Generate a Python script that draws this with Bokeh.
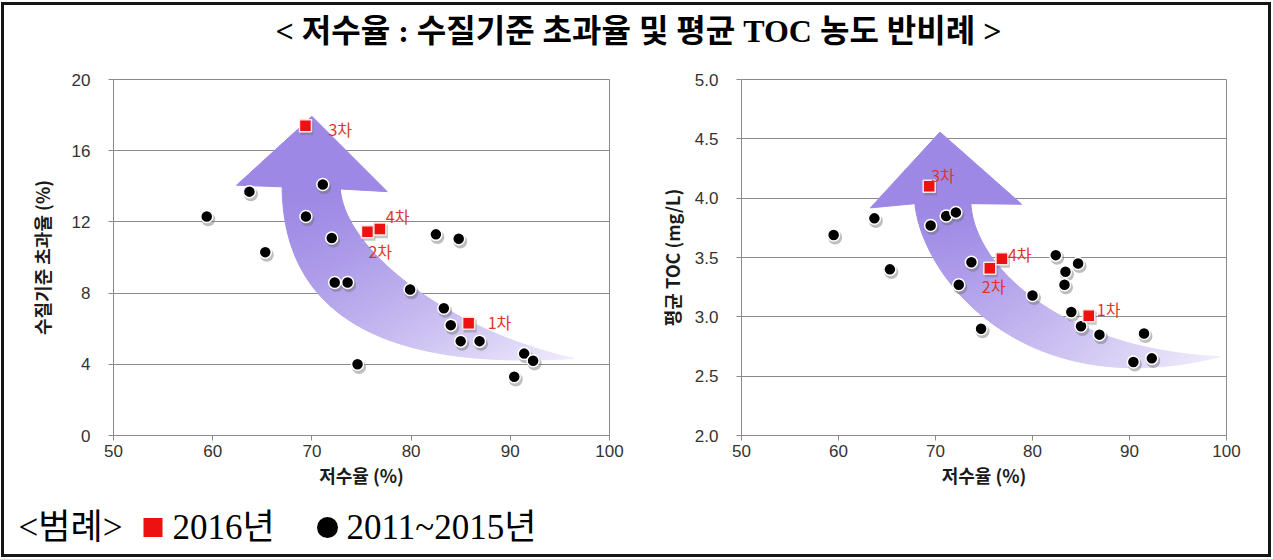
import numpy as np
from bokeh.plotting import figure
from bokeh.layouts import column, row
from bokeh.models import Range1d, ColumnDataSource, FixedTicker, NumeralTickFormatter
from bokeh.transform import dodge
from bokeh.core.properties import value
from bokeh.embed import file_html
from bokeh.resources import INLINE

# ---------------- texts ----------------
TITLE = "< 저수율 : 수질기준 초과율 및 평균 TOC 농도 반비례 >"
X_LABEL = "저수율 (%)"
Y1_LABEL = "수질기준 초과율 (%)"
Y2_LABEL = "평균 TOC (mg/L)"
LEGEND_HEAD = "<범례>"
LEGEND_2016 = "2016년"
LEGEND_PAST = "2011~2015년"

# ---------------- ticks ----------------
x_ticks = [50, 60, 70, 80, 90, 100]
y1_ticks = [0, 4, 8, 12, 16, 20]
y2_ticks = [2.0, 2.5, 3.0, 3.5, 4.0, 4.5, 5.0]

# ---------------- data: 2011~2015 (black) ----------------
past_rate_1 = [59.4, 63.7, 65.3, 69.4, 71.1, 72.0, 72.3, 73.6, 74.6, 79.9,
               82.5, 84.8, 83.3, 84.0, 85.0, 86.9, 90.4, 91.4, 92.3]
past_exceed = [12.3, 13.7, 10.3, 12.3, 14.1, 11.1, 8.6, 8.6, 4.0, 8.2,
               11.3, 11.05, 7.15, 6.2, 5.3, 5.3, 3.3, 4.6, 4.2]
past_rate_2 = [59.5, 63.7, 65.3, 69.5, 71.1, 72.1, 72.4, 73.7, 74.7, 80.0,
               82.4, 84.7, 83.4, 83.3, 84.0, 85.0, 86.9, 90.4, 91.5, 92.3]
past_toc = [3.69, 3.83, 3.40, 3.77, 3.85, 3.88, 3.27, 3.46, 2.90, 3.18,
            3.52, 3.45, 3.38, 3.27, 3.04, 2.92, 2.85, 2.62, 2.86, 2.65]

# ---------------- data: 2016 (red) ----------------
rounds_2016 = ["1차", "2차", "3차", "4차"]
rate_2016 = [85.8, 75.6, 69.35, 76.85]
exceed_2016 = [6.3, 11.45, 17.4, 11.6]
toc_2016 = [3.01, 3.41, 4.10, 3.49]

# ---------------- styles ----------------
GRID_C = "#8a8a8a"
TICK_C = "#333333"
RED = "#ee1111"
LABEL_RED = "#e2332b"
HEAD_C = (157, 136, 229)
TAIL_C = (240, 236, 252)
KR_NAME = "Noto Sans CJK KR"
KR = value(KR_NAME)
SERIF_KR = value("'Liberation Serif', 'Noto Sans CJK KR'")

# decorative curved arrow geometry (data units of each chart)
arrow1 = dict(head=[(62.4, 14.06), (70.0, 17.93), (77.6, 13.7)],
              outer=[(67.0, 13.97), (67.1, 7.26), (75.9, 3.6), (96.4, 4.33)],
              inner=[(72.86, 13.85), (73.36, 10.34), (83.94, 5.87), (96.4, 4.33)])
arrow2 = dict(head=[(63.28, 3.918), (70.46, 4.557), (78.88, 3.949)],
              outer=[(67.88, 3.954), (68.59, 3.338), (78.96, 2.244), (99.29, 2.665)],
              inner=[(73.65, 3.954), (73.98, 3.422), (83.11, 2.721), (99.29, 2.665)])


def bez(P, t):
    P0, P1, P2, P3 = [np.array(q, float) for q in P]
    t = t[:, None]
    return ((1 - t) ** 3) * P0 + 3 * ((1 - t) ** 2) * t * P1 + 3 * (1 - t) * t * t * P2 + (t ** 3) * P3


def draw_arrow(p, geo, n=60):
    t = np.linspace(0, 1, n + 1)
    o = bez(geo["outer"], t)
    q = bez(geo["inner"], t)
    xs, ys, cols = [], [], []
    for k in range(n):
        xs.append([o[k, 0], o[k + 1, 0], q[k + 1, 0], q[k, 0]])
        ys.append([o[k, 1], o[k + 1, 1], q[k + 1, 1], q[k, 1]])
        f = ((t[k] + t[k + 1]) / 2) ** 1.35
        c = tuple(int(round(HEAD_C[j] + (TAIL_C[j] - HEAD_C[j]) * f)) for j in range(3))
        cols.append("#%02x%02x%02x" % c)
    p.patches(xs, ys, fill_color=cols, line_color=cols, line_width=1)
    hl, tip, hr = geo["head"]
    hc = "#%02x%02x%02x" % HEAD_C
    p.patch([hl[0], tip[0], hr[0], q[0, 0], o[0, 0]],
            [hl[1], tip[1], hr[1], q[0, 1], o[0, 1]],
            fill_color=hc, line_color=hc, line_width=1)


def make_chart(width, height, bl, br, bt, bb, yr, yticks, ylabel, ylabel_standoff, fmt=None):
    p = figure(width=width, height=height, x_range=Range1d(50, 100), y_range=Range1d(*yr),
               output_backend="svg", toolbar_location=None,
               min_border_left=bl, min_border_right=br, min_border_top=bt, min_border_bottom=bb)
    p.background_fill_color = "white"
    p.border_fill_color = "white"
    p.outline_line_color = GRID_C
    p.outline_line_width = 1
    p.xgrid.visible = False
    p.ygrid.ticker = FixedTicker(ticks=yticks)
    p.ygrid.grid_line_color = GRID_C
    p.ygrid.grid_line_width = 1
    p.xaxis.ticker = FixedTicker(ticks=x_ticks)
    p.yaxis.ticker = FixedTicker(ticks=yticks)
    if fmt is not None:
        p.yaxis.formatter = fmt
    for ax in (p.xaxis, p.yaxis):
        ax.axis_line_color = GRID_C
        ax.major_tick_line_color = GRID_C
        ax.major_tick_out = 5
        ax.major_tick_in = 0
        ax.minor_tick_line_color = None
        ax.major_label_text_font = "Liberation Sans"
        ax.major_label_text_font_size = "17px"
        ax.major_label_text_color = TICK_C
        ax.axis_label_text_font = KR_NAME
        ax.axis_label_text_font_style = "bold"
        ax.axis_label_text_font_size = "18px"
        ax.axis_label_text_color = "#1a1a1a"
    p.xaxis.axis_label = X_LABEL
    p.yaxis.axis_label = ylabel
    p.xaxis.major_label_standoff = 4
    p.xaxis.axis_label_standoff = 2
    p.yaxis.major_label_standoff = 18
    p.yaxis.axis_label_standoff = ylabel_standoff
    return p


def add_points(p, px, py, rx, ry, dx_shadow, dy_shadow, lab_dx, lab_dy):
    src_b = ColumnDataSource(dict(x=px, y=py))
    src_r = ColumnDataSource(dict(x=rx, y=ry, label=rounds_2016, dx=lab_dx, dy=lab_dy))
    p.scatter(x=dodge("x", dx_shadow), y=dodge("y", dy_shadow), source=src_b, marker="circle",
              size=14, fill_color="#6e6e6e", fill_alpha=0.45, line_color=None)
    p.scatter(x=dodge("x", dx_shadow), y=dodge("y", dy_shadow), source=src_r, marker="square",
              size=13, fill_color="#6e6e6e", fill_alpha=0.4, line_color=None)
    p.scatter(x="x", y="y", source=src_b, marker="circle", size=12,
              fill_color="black", line_color="white", line_width=1.5)
    p.scatter(x="x", y="y", source=src_r, marker="square", size=12,
              fill_color=RED, line_color="#fbe6e6", line_width=1.5)
    p.text(x="x", y="y", text="label", x_offset="dx", y_offset="dy", source=src_r,
           text_color=LABEL_RED, text_font=KR, text_font_size="16px",
           text_align="left", text_baseline="middle")


# ---------------- layout geometry (border 3px, content starts at page 4,5) ----------------
W_TOTAL = 1264
H_TITLE = 58
H_ROW = 437
H_LEG = 54

# ---------------- title ----------------
t = figure(width=W_TOTAL, height=H_TITLE, x_range=Range1d(0, W_TOTAL), y_range=Range1d(0, H_TITLE),
           output_backend="svg", toolbar_location=None, min_border=0,
           x_axis_location=None, y_axis_location=None)
t.grid.visible = False
t.outline_line_color = None
t.text(x=[634], y=[H_TITLE - 25], text=[TITLE], text_align="center", text_baseline="middle",
       text_font=SERIF_KR, text_font_size="32px", text_font_style="bold", text_color="black")

# ---------------- charts ----------------
p1 = make_chart(636, H_ROW, 109, 31, 14, 65, (0, 20), y1_ticks, Y1_LABEL, 14)
draw_arrow(p1, arrow1)
add_points(p1, past_rate_1, past_exceed, rate_2016, exceed_2016, 0.15, -0.15,
           [19, 1, 23, 6], [-1, 19, 3, -13])

p2 = make_chart(628, H_ROW, 101, 42, 16, 64, (2, 5), y2_ticks, Y2_LABEL, 7,
                fmt=NumeralTickFormatter(format="0.0"))
draw_arrow(p2, arrow2)
add_points(p2, past_rate_2, past_toc, rate_2016, toc_2016, 0.15, -0.022,
           [8, -8, 2, 6], [-7, 18, -11, -5])

# ---------------- legend ----------------
leg = figure(width=W_TOTAL, height=H_LEG, x_range=Range1d(0, W_TOTAL), y_range=Range1d(0, H_LEG),
             output_backend="svg", toolbar_location=None, min_border=0,
             x_axis_location=None, y_axis_location=None)
leg.grid.visible = False
leg.outline_line_color = None
LY = H_LEG - 27
leg.text(x=[14, 168, 342], y=[LY, LY, LY], text=[LEGEND_HEAD, LEGEND_2016, LEGEND_PAST],
         text_align="left", text_baseline="middle", text_font=SERIF_KR,
         text_font_size="35px", text_color="black")
leg.scatter(x=[148.5], y=[LY], marker="square", size=19, fill_color=RED, line_color=None)
leg.scatter(x=[323], y=[LY], marker="circle", size=21, fill_color="black", line_color=None)

layout = column(t, row(p1, p2), leg,
                styles={"border": "3px solid #151515", "margin-left": "1px", "margin-top": "2px"})

open("out.html", "w").write(file_html(layout, INLINE))
